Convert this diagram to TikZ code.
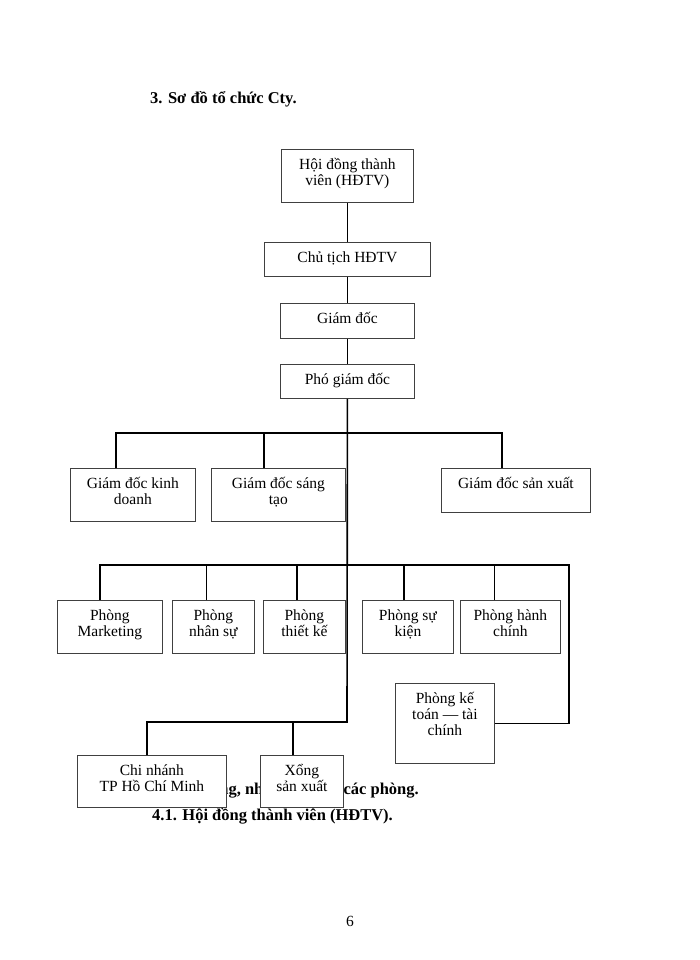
\documentclass[tikz,border=0pt]{standalone}
\usepackage{fontspec}
\setmainfont{Liberation Serif}
\tikzset{
  box/.style={draw=black!75, line width=0.8pt, fill=white, inner sep=0pt, anchor=north west, font=\fontsize{15.5}{16}\selectfont},
  conn/.style={line width=1.6pt},
  thinconn/.style={line width=0.8pt},
  heading/.style={inner sep=0pt, font=\fontsize{16.5}{18}\selectfont\bfseries}
}
\newcommand{\boxtext}[3]{\parbox[c][#2pt][t]{#1pt}{\centering\lineskiplimit=-20pt\rule{0pt}{20pt}#3}}

\begin{document}
\begin{tikzpicture}[x=1pt, y=-1pt]
				\useasboundingbox (0,0) rectangle (700,960);
				\node[heading, anchor=base west] (title) at (150,104) {3. Sơ đồ tổ chức Cty.};
				\node[heading, anchor=base east] (sec4) at (419,794) {4. Chức năng, nhiệm vụ của các phòng.};
				\node[heading, anchor=base west] (sec41) at (152,820) {4.1. Hội đồng thành viên (HĐTV).};
				\node[font=\fontsize{15.5}{16}\selectfont] (pagenum) at (350,921) {6};
				% top chain
				\node[box] (hdtv) at (281,149) {\boxtext{132}{53}{Hội đồng thành\\viên (HĐTV)}};
				\node[box] (ctich) at (264,242) {\boxtext{166}{34}{Chủ tịch HĐTV}};
				\node[box] (gd) at (280,303) {\boxtext{134}{35}{Giám đốc}};
				\node[box] (pho) at (280,364) {\boxtext{134}{34}{Phó giám đốc}};
				\draw[conn] (hdtv.south) -- (ctich.north);
				\draw[conn] (ctich.south) -- (gd.north);
				\draw[conn] (gd.south) -- (pho.north);
				% directors
				\coordinate (bus1) at (347,433);
				\coordinate (bus2) at (347,565);
				\coordinate (bus3) at (347,722);
				\coordinate (corner) at (569,565);
				\node[box] (gdkd) at (70,468) {\boxtext{125}{53}{Giám đốc kinh\\doanh}};
				\node[box] (gdst) at (211,468) {\boxtext{134}{53}{Giám đốc sáng\\tạo}};
				\node[box] (gdsx) at (441,468) {\boxtext{149}{44}{Giám đốc sản xuất}};
				\draw[conn] ([xshift=46pt]gdkd.north west) |- (bus1) -| ([xshift=61pt]gdsx.north west);
				\draw[conn] ([xshift=53pt]gdst.north west) -- +(0,-35);
				% departments
				\node[box] (mkt) at (57,600) {\boxtext{105}{53}{Phòng\\Marketing}};
				\node[box] (ns) at (172,600) {\boxtext{82}{53}{Phòng\\nhân sự}};
				\node[box] (tk) at (263,600) {\boxtext{82}{53}{Phòng\\thiết kế}};
				\node[box] (sk) at (362,600) {\boxtext{91}{53}{Phòng sự\\kiện}};
				\node[box] (hc) at (460,600) {\boxtext{100}{53}{Phòng hành\\chính}};
				\node[box] (kt) at (395,683) {\boxtext{99}{80}{Phòng kế\\toán — tài\\chính}};
				\draw[conn] ([xshift=43pt]mkt.north west) |- (corner) |- (kt.east);
				\draw[thinconn] ([xshift=34pt]ns.north west) -- +(0,-35);
				\draw[conn] ([xshift=34pt]tk.north west) -- +(0,-35);
				\draw[conn] ([xshift=42pt]sk.north west) -- +(0,-35);
				\draw[thinconn] ([xshift=34pt]hc.north west) -- +(0,-35);
				% branches
				\node[box] (cn) at (77,755) {\boxtext{149}{52}{Chi nhánh\\TP Hồ Chí Minh}};
				\node[box] (xsx) at (260,755) {\boxtext{83}{52}{Xổng\\sản xuất}};
				\draw[conn] (pho.south) -- (bus3) -| ([xshift=70pt]cn.north west);
				\draw[conn] ([xshift=33pt]xsx.north west) -- +(0,-33);
			\end{tikzpicture}
\end{document}
